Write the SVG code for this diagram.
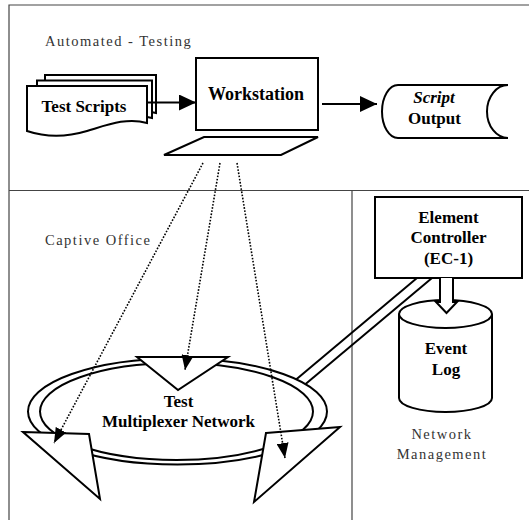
<svg xmlns="http://www.w3.org/2000/svg" width="529" height="520" viewBox="0 0 529 520">
<defs>
<style>
.frame{stroke:#444;stroke-width:1.2;fill:none}
.shape{fill:#fff;stroke:#000;stroke-width:2;stroke-linejoin:miter}
.lbl{font-family:"Liberation Serif","Times New Roman",serif;font-weight:bold;font-size:17px;fill:#000;text-anchor:middle}
.area{font-family:"Liberation Serif","Times New Roman",serif;font-size:14.5px;letter-spacing:1.5px;fill:#333}
.dot{stroke:#000;stroke-width:1.6;stroke-dasharray:1.6 1.6;fill:none}
.ring{fill:none;stroke:#000;stroke-width:2}
.solid{stroke:#000;stroke-width:2.2;fill:none}
.pipe{stroke:#000;stroke-width:2;fill:none}
</style>
<marker id="ah" viewBox="0 0 17 16" refX="17" refY="8" markerWidth="17" markerHeight="16" markerUnits="userSpaceOnUse" orient="auto"><path d="M0,0 L17,8 L0,16 Z" fill="#000"/></marker>
<marker id="ahd" viewBox="0 0 15 12" refX="15" refY="6" markerWidth="15" markerHeight="12" markerUnits="userSpaceOnUse" orient="auto"><path d="M0,0 L15,6 L0,12 Z" fill="#000"/></marker>
</defs>
<rect width="529" height="520" fill="#fff"/>
<g id="frame">
<path class="frame" d="M9,520 V5 H529"/>
<path class="frame" d="M9,190.5 H529"/>
<path class="frame" d="M352,190.5 V520"/>
<text class="area" x="45" y="46">Automated - Testing</text>
<text class="area" x="45" y="245">Captive Office</text>
<text class="area" x="442" y="439" text-anchor="middle">Network</text>
<text class="area" x="442" y="459" text-anchor="middle">Management</text>
</g>
<g id="test-scripts">
<path class="shape" d="M45,75 H156 V113 C136,107 116,115 96,121 C76,127 60,127 45,121 Z"/>
<path class="shape" d="M37,80.5 H152 V118 C132,112 112,120 92,126 C72,132 55,132 37,126 Z"/>
<path class="shape" d="M27,86 H147 V123 C127,117 107,125 87,131 C67,137 45,137 27,131 Z"/>
<text class="lbl" x="84" y="112">Test Scripts</text>
</g>
<g id="workstation">
<rect class="shape" x="196" y="58" width="122" height="72"/>
<polygon class="shape" points="204,137 318,137 281,155 164,155"/>
<text class="lbl" x="256" y="100" style="font-size:18px">Workstation</text>
</g>
<g id="script-output">
<path class="shape" d="M398,85 H508 A21,26.5 0 0 0 508,138 H398 A16,26.5 0 0 1 398,85 Z"/>
<text class="lbl" x="434" y="103" font-style="italic">Script</text>
<text class="lbl" x="434.5" y="124">Output</text>
</g>
<g id="element-controller">
<rect class="shape" x="375" y="197" width="147" height="81"/>
<text class="lbl" x="448.5" y="223">Element</text>
<text class="lbl" x="448.5" y="243">Controller</text>
<text class="lbl" x="448.5" y="264">(EC-1)</text>
</g>
<g id="event-log">
<path class="shape" d="M399,314 A46.5,14 0 0 1 492,314 V398 A46.5,14 0 0 1 399,398 Z"/>
<path class="shape" fill="none" d="M399,314 A46.5,14 0 0 0 492,314" style="fill:none"/>
<text class="lbl" x="446" y="354">Event</text>
<text class="lbl" x="446" y="375">Log</text>
</g>
<g id="test-multiplexer-network">
<ellipse class="ring" cx="177.5" cy="411.5" rx="149.5" ry="53"/>
<ellipse class="ring" cx="176.5" cy="411.5" rx="136.5" ry="48.5"/>
<polygon class="shape" points="137,357 228,357 178,390"/>
<polygon class="shape" points="23,432 89,434 100,499"/>
<polygon class="shape" points="266,433 340,427 254,502"/>
<text class="lbl" x="178.5" y="407">Test</text>
<text class="lbl" x="178.5" y="427">Multiplexer Network</text>
</g>
<g id="connectors">
<line class="solid" x1="147" y1="102.5" x2="196" y2="102.5" marker-end="url(#ah)"/>
<line class="solid" x1="322" y1="104" x2="377" y2="104" marker-end="url(#ah)"/>
<line class="pipe" x1="417" y1="278" x2="296.4" y2="379.3"/>
<line class="pipe" x1="432" y1="278" x2="305.6" y2="384.1"/>
<path class="shape" d="M440,278 V302 H436 L446.5,313 L457,302 H453 V278"/>
<line class="dot" x1="203" y1="163" x2="54" y2="443" marker-end="url(#ahd)"/>
<line class="dot" x1="220" y1="163" x2="185" y2="370" marker-end="url(#ahd)"/>
<line class="dot" x1="237" y1="163" x2="285" y2="458" marker-end="url(#ahd)"/>
</g>
</svg>
